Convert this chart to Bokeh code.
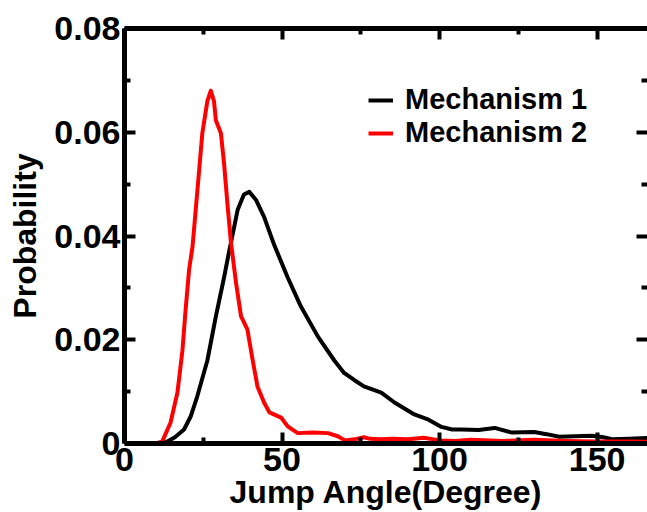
from bokeh.plotting import figure
from bokeh.models import (Range1d, LinearAxis, FixedTicker, Legend, LegendItem,
                          CustomJSTickFormatter)
from bokeh.embed import file_html
from bokeh.resources import INLINE

# Jump angle distributions (degrees vs probability)
mech1_x = [0, 10, 13.6, 16, 18.9, 21, 23.1, 26.3, 29, 31.6, 33.2, 35.9, 37.9,
           39.6, 41.7, 44.3, 47.5, 51.8, 56, 61.4, 66.6, 69.7, 73, 76, 81.5,
           85.7, 92, 96.5, 100.6, 104, 107, 112.4, 117.5, 123, 130, 134, 138,
           143, 148.4, 152, 155, 160, 167]
mech1_y = [0, 0, 0.0004, 0.0012, 0.0027, 0.0052, 0.0091, 0.016, 0.0245, 0.032,
           0.037, 0.045, 0.048, 0.0485, 0.047, 0.0437, 0.0383, 0.032, 0.0264,
           0.0206, 0.016, 0.0136, 0.0122, 0.011, 0.0098, 0.0079, 0.0056,
           0.0046, 0.0032, 0.0027, 0.0027, 0.0026, 0.003, 0.0021, 0.0022,
           0.0018, 0.0013, 0.0014, 0.0015, 0.0012, 0.0008, 0.0009, 0.0011]

mech2_x = [0, 10, 12, 14.6, 16.8, 18.4, 19.4, 20.5, 21.6, 23.7, 24.7, 26.3,
           27.4, 28.4, 29, 30.6, 31.6, 32.7, 33.8, 35.4, 37, 39, 40.7, 42.2,
           44.3, 46, 49.7, 51.8, 55, 60, 64.6, 67.7, 70, 73, 76, 78, 81.5, 85,
           90, 95, 100, 105, 110, 120, 130, 140, 150, 160, 167]
mech2_y = [0, 0, 0.0004, 0.004, 0.0098, 0.018, 0.0258, 0.0335, 0.038, 0.0527,
           0.0598, 0.066, 0.068, 0.066, 0.0623, 0.0598, 0.054, 0.046, 0.0387,
           0.031, 0.0245, 0.022, 0.016, 0.011, 0.0079, 0.006, 0.005, 0.0033,
           0.002, 0.0021, 0.002, 0.0014, 0.0006, 0.0008, 0.0012, 0.0009,
           0.0008, 0.0009, 0.0008, 0.0011, 0.0006, 0.0005, 0.0007, 0.0005,
           0.0007, 0.0005, 0.0004, 0.0004, 0.0003]

series_names = ["Mechanism 1", "Mechanism 2"]
series_colors = ["black", "#ff0000"]

x_ticks = [0, 50, 100, 150]
x_minor = [25, 75, 125]
y_ticks = [0, 0.02, 0.04, 0.06, 0.08]
y_labels = ["0", "0.02", "0.04", "0.06", "0.08"]
y_minor = [0.01, 0.03, 0.05, 0.07]

FONT = "Liberation Sans"

p = figure(width=647, height=512, output_backend="svg", toolbar_location=None,
           x_range=Range1d(0, 166), y_range=Range1d(0, 0.08),
           min_border_left=124, min_border_right=0, min_border_top=28,
           min_border_bottom=68)
p.outline_line_color = None
p.xgrid.visible = False
p.ygrid.visible = False
p.background_fill_color = "white"
p.border_fill_color = "white"

r1 = p.line(mech1_x, mech1_y, line_color=series_colors[0], line_width=4,
            line_join="round")
r2 = p.line(mech2_x, mech2_y, line_color=series_colors[1], line_width=4,
            line_join="round")


def style_axis(ax):
    ax.axis_line_width = 5
    ax.major_tick_line_width = 4
    ax.minor_tick_line_width = 4
    ax.major_tick_in = 11
    ax.major_tick_out = 0
    ax.minor_tick_in = 6
    ax.minor_tick_out = 0
    ax.major_label_text_font = FONT
    ax.major_label_text_font_style = "bold"
    ax.major_label_text_font_size = "34px"
    ax.major_label_text_color = "black"
    ax.axis_label_text_font = FONT
    ax.axis_label_text_font_style = "bold"
    ax.axis_label_text_font_size = "32px"
    ax.axis_label_text_color = "black"


xt = FixedTicker(ticks=x_ticks, minor_ticks=x_minor)
yt = FixedTicker(ticks=y_ticks, minor_ticks=y_minor)
blank = CustomJSTickFormatter(code='return "";')

xa = p.xaxis[0]
xa.ticker = xt
xa.axis_label = "Jump Angle(Degree)"
xa.major_label_standoff = 4
xa.axis_label_standoff = 0
style_axis(xa)

ya = p.yaxis[0]
ya.ticker = yt
ya.axis_label = "Probability"
ya.major_label_overrides = {v: s for v, s in zip(y_ticks, y_labels)}
ya.major_label_standoff = 4
ya.axis_label_standoff = 8
style_axis(ya)

# Mirror ticks on the top and right edges, without labels
top = LinearAxis(ticker=xt, formatter=blank)
style_axis(top)
top.major_label_standoff = 0
p.add_layout(top, "above")

right = LinearAxis(ticker=yt, formatter=blank)
style_axis(right)
right.major_label_standoff = 0
right.axis_line_color = None
p.add_layout(right, "right")

legend = Legend(items=[LegendItem(label=series_names[0], renderers=[r1]),
                       LegendItem(label=series_names[1], renderers=[r2])],
                location=(244, 294))
legend.border_line_color = None
legend.background_fill_alpha = 0
legend.label_text_font = FONT
legend.label_text_font_style = "bold"
legend.label_text_font_size = "29px"
legend.label_text_color = "black"
legend.label_height = 26
legend.glyph_height = 26
legend.glyph_width = 25
legend.label_standoff = 12
legend.spacing = 0
legend.padding = 0
legend.margin = 0
p.add_layout(legend, "center")

open("out.html", "w").write(file_html(p, INLINE))
